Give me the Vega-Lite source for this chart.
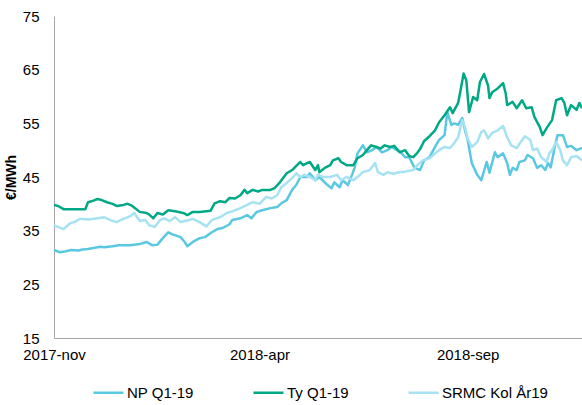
{
  "$schema": "https://vega.github.io/schema/vega-lite/v6.json",
  "autosize": "none",
  "width": 528,
  "height": 322,
  "padding": {"left": 54, "top": 16, "right": 0, "bottom": 67},
  "background": "white",
  "config": {
    "font": "Liberation Sans",
    "view": {"stroke": null}
  },
  "data": {"values": [
    {"d":"2017-11-01","s":"NP Q1-19","v":31.4},{"d":"2017-11-05","s":"NP Q1-19","v":31.0},{"d":"2017-11-09","s":"NP Q1-19","v":31.1},{"d":"2017-11-13","s":"NP Q1-19","v":31.4},{"d":"2017-11-19","s":"NP Q1-19","v":31.3},{"d":"2017-11-22","s":"NP Q1-19","v":31.5},{"d":"2017-11-26","s":"NP Q1-19","v":31.6},{"d":"2017-12-01","s":"NP Q1-19","v":31.8},{"d":"2017-12-05","s":"NP Q1-19","v":32.0},{"d":"2017-12-08","s":"NP Q1-19","v":31.9},{"d":"2017-12-14","s":"NP Q1-19","v":32.1},{"d":"2017-12-19","s":"NP Q1-19","v":32.3},{"d":"2017-12-27","s":"NP Q1-19","v":32.3},
    {"d":"2018-01-03","s":"NP Q1-19","v":32.5},{"d":"2018-01-08","s":"NP Q1-19","v":32.9},{"d":"2018-01-12","s":"NP Q1-19","v":32.3},{"d":"2018-01-16","s":"NP Q1-19","v":32.4},{"d":"2018-01-20","s":"NP Q1-19","v":33.6},{"d":"2018-01-24","s":"NP Q1-19","v":34.7},{"d":"2018-01-27","s":"NP Q1-19","v":34.3},{"d":"2018-02-02","s":"NP Q1-19","v":33.8},{"d":"2018-02-05","s":"NP Q1-19","v":32.9},{"d":"2018-02-07","s":"NP Q1-19","v":32.1},{"d":"2018-02-11","s":"NP Q1-19","v":32.9},{"d":"2018-02-16","s":"NP Q1-19","v":33.6},{"d":"2018-02-20","s":"NP Q1-19","v":33.8},{"d":"2018-02-25","s":"NP Q1-19","v":34.7},
    {"d":"2018-03-01","s":"NP Q1-19","v":35.3},{"d":"2018-03-05","s":"NP Q1-19","v":35.5},{"d":"2018-03-10","s":"NP Q1-19","v":36.2},{"d":"2018-03-12","s":"NP Q1-19","v":37.0},{"d":"2018-03-18","s":"NP Q1-19","v":37.3},{"d":"2018-03-23","s":"NP Q1-19","v":37.9},{"d":"2018-03-26","s":"NP Q1-19","v":37.3},{"d":"2018-03-30","s":"NP Q1-19","v":38.5},{"d":"2018-04-03","s":"NP Q1-19","v":38.8},{"d":"2018-04-09","s":"NP Q1-19","v":39.2},{"d":"2018-04-14","s":"NP Q1-19","v":39.4},{"d":"2018-04-17","s":"NP Q1-19","v":40.1},{"d":"2018-04-21","s":"NP Q1-19","v":40.7},{"d":"2018-04-25","s":"NP Q1-19","v":42.6},{"d":"2018-04-28","s":"NP Q1-19","v":43.5},
    {"d":"2018-05-01","s":"NP Q1-19","v":45.0},{"d":"2018-05-06","s":"NP Q1-19","v":45.0},{"d":"2018-05-08","s":"NP Q1-19","v":45.7},{"d":"2018-05-12","s":"NP Q1-19","v":44.4},{"d":"2018-05-15","s":"NP Q1-19","v":45.0},{"d":"2018-05-21","s":"NP Q1-19","v":43.5},{"d":"2018-05-24","s":"NP Q1-19","v":42.9},{"d":"2018-05-26","s":"NP Q1-19","v":44.0},{"d":"2018-05-30","s":"NP Q1-19","v":43.1},{"d":"2018-06-01","s":"NP Q1-19","v":44.4},{"d":"2018-06-05","s":"NP Q1-19","v":43.5},{"d":"2018-06-08","s":"NP Q1-19","v":45.4},{"d":"2018-06-10","s":"NP Q1-19","v":46.8},{"d":"2018-06-12","s":"NP Q1-19","v":49.4},{"d":"2018-06-16","s":"NP Q1-19","v":50.9},{"d":"2018-06-19","s":"NP Q1-19","v":49.6},{"d":"2018-06-22","s":"NP Q1-19","v":49.9},{"d":"2018-06-26","s":"NP Q1-19","v":50.6},{"d":"2018-06-30","s":"NP Q1-19","v":49.6},
    {"d":"2018-07-04","s":"NP Q1-19","v":50.0},{"d":"2018-07-07","s":"NP Q1-19","v":50.6},{"d":"2018-07-11","s":"NP Q1-19","v":50.0},{"d":"2018-07-13","s":"NP Q1-19","v":49.8},{"d":"2018-07-17","s":"NP Q1-19","v":48.7},{"d":"2018-07-20","s":"NP Q1-19","v":48.7},{"d":"2018-07-24","s":"NP Q1-19","v":46.7},{"d":"2018-07-28","s":"NP Q1-19","v":46.3},{"d":"2018-07-31","s":"NP Q1-19","v":48.1},{"d":"2018-08-04","s":"NP Q1-19","v":48.7},{"d":"2018-08-08","s":"NP Q1-19","v":50.6},{"d":"2018-08-11","s":"NP Q1-19","v":51.9},{"d":"2018-08-15","s":"NP Q1-19","v":52.8},{"d":"2018-08-17","s":"NP Q1-19","v":57.1},{"d":"2018-08-20","s":"NP Q1-19","v":54.7},{"d":"2018-08-22","s":"NP Q1-19","v":55.0},{"d":"2018-08-25","s":"NP Q1-19","v":54.7},{"d":"2018-08-28","s":"NP Q1-19","v":56.0},{"d":"2018-08-30","s":"NP Q1-19","v":53.7},
    {"d":"2018-09-01","s":"NP Q1-19","v":51.9},{"d":"2018-09-04","s":"NP Q1-19","v":47.6},{"d":"2018-09-08","s":"NP Q1-19","v":45.4},{"d":"2018-09-11","s":"NP Q1-19","v":44.4},{"d":"2018-09-15","s":"NP Q1-19","v":47.8},{"d":"2018-09-17","s":"NP Q1-19","v":45.8},{"d":"2018-09-21","s":"NP Q1-19","v":49.6},{"d":"2018-09-23","s":"NP Q1-19","v":48.7},{"d":"2018-09-27","s":"NP Q1-19","v":49.4},{"d":"2018-09-30","s":"NP Q1-19","v":47.6},
    {"d":"2018-10-02","s":"NP Q1-19","v":45.4},{"d":"2018-10-04","s":"NP Q1-19","v":46.7},{"d":"2018-10-07","s":"NP Q1-19","v":46.3},{"d":"2018-10-09","s":"NP Q1-19","v":47.8},{"d":"2018-10-13","s":"NP Q1-19","v":48.1},{"d":"2018-10-15","s":"NP Q1-19","v":49.1},{"d":"2018-10-19","s":"NP Q1-19","v":48.5},{"d":"2018-10-22","s":"NP Q1-19","v":46.7},{"d":"2018-10-25","s":"NP Q1-19","v":47.2},{"d":"2018-10-28","s":"NP Q1-19","v":46.3},{"d":"2018-10-30","s":"NP Q1-19","v":47.6},{"d":"2018-11-01","s":"NP Q1-19","v":46.8},{"d":"2018-11-04","s":"NP Q1-19","v":50.6},{"d":"2018-11-06","s":"NP Q1-19","v":52.8},{"d":"2018-11-10","s":"NP Q1-19","v":52.8},{"d":"2018-11-13","s":"NP Q1-19","v":50.6},{"d":"2018-11-16","s":"NP Q1-19","v":50.8},{"d":"2018-11-20","s":"NP Q1-19","v":50.0},{"d":"2018-11-24","s":"NP Q1-19","v":50.4},

    {"d":"2017-11-01","s":"Ty Q1-19","v":39.8},{"d":"2017-11-04","s":"Ty Q1-19","v":39.6},{"d":"2017-11-08","s":"Ty Q1-19","v":39.0},{"d":"2017-11-16","s":"Ty Q1-19","v":39.0},{"d":"2017-11-24","s":"Ty Q1-19","v":39.0},{"d":"2017-11-26","s":"Ty Q1-19","v":40.3},{"d":"2017-11-30","s":"Ty Q1-19","v":40.6},{"d":"2017-12-03","s":"Ty Q1-19","v":40.9},{"d":"2017-12-06","s":"Ty Q1-19","v":40.7},{"d":"2017-12-10","s":"Ty Q1-19","v":40.3},{"d":"2017-12-14","s":"Ty Q1-19","v":40.0},{"d":"2017-12-17","s":"Ty Q1-19","v":39.6},{"d":"2017-12-22","s":"Ty Q1-19","v":39.8},{"d":"2017-12-25","s":"Ty Q1-19","v":40.0},{"d":"2017-12-28","s":"Ty Q1-19","v":39.7},
    {"d":"2018-01-03","s":"Ty Q1-19","v":38.5},{"d":"2018-01-08","s":"Ty Q1-19","v":38.3},{"d":"2018-01-10","s":"Ty Q1-19","v":38.0},{"d":"2018-01-13","s":"Ty Q1-19","v":37.3},{"d":"2018-01-16","s":"Ty Q1-19","v":38.3},{"d":"2018-01-20","s":"Ty Q1-19","v":38.0},{"d":"2018-01-24","s":"Ty Q1-19","v":38.8},{"d":"2018-01-29","s":"Ty Q1-19","v":38.6},{"d":"2018-02-04","s":"Ty Q1-19","v":38.3},{"d":"2018-02-07","s":"Ty Q1-19","v":37.9},{"d":"2018-02-11","s":"Ty Q1-19","v":38.5},{"d":"2018-02-16","s":"Ty Q1-19","v":38.5},{"d":"2018-02-24","s":"Ty Q1-19","v":38.7},{"d":"2018-02-27","s":"Ty Q1-19","v":40.1},
    {"d":"2018-03-03","s":"Ty Q1-19","v":40.5},{"d":"2018-03-07","s":"Ty Q1-19","v":40.3},{"d":"2018-03-10","s":"Ty Q1-19","v":41.1},{"d":"2018-03-14","s":"Ty Q1-19","v":41.0},{"d":"2018-03-18","s":"Ty Q1-19","v":41.6},{"d":"2018-03-21","s":"Ty Q1-19","v":42.6},{"d":"2018-03-23","s":"Ty Q1-19","v":42.0},{"d":"2018-03-27","s":"Ty Q1-19","v":42.6},{"d":"2018-03-31","s":"Ty Q1-19","v":42.3},{"d":"2018-04-03","s":"Ty Q1-19","v":42.6},{"d":"2018-04-09","s":"Ty Q1-19","v":42.6},{"d":"2018-04-12","s":"Ty Q1-19","v":42.9},{"d":"2018-04-16","s":"Ty Q1-19","v":44.0},{"d":"2018-04-21","s":"Ty Q1-19","v":45.7},{"d":"2018-04-25","s":"Ty Q1-19","v":46.3},
    {"d":"2018-05-01","s":"Ty Q1-19","v":47.8},{"d":"2018-05-03","s":"Ty Q1-19","v":47.2},{"d":"2018-05-06","s":"Ty Q1-19","v":47.6},{"d":"2018-05-08","s":"Ty Q1-19","v":47.8},{"d":"2018-05-12","s":"Ty Q1-19","v":46.3},{"d":"2018-05-14","s":"Ty Q1-19","v":47.2},{"d":"2018-05-15","s":"Ty Q1-19","v":45.9},{"d":"2018-05-19","s":"Ty Q1-19","v":46.7},{"d":"2018-05-23","s":"Ty Q1-19","v":47.2},{"d":"2018-05-25","s":"Ty Q1-19","v":48.1},{"d":"2018-05-29","s":"Ty Q1-19","v":48.5},{"d":"2018-05-31","s":"Ty Q1-19","v":47.8},{"d":"2018-06-04","s":"Ty Q1-19","v":47.2},{"d":"2018-06-09","s":"Ty Q1-19","v":47.2},{"d":"2018-06-12","s":"Ty Q1-19","v":48.5},{"d":"2018-06-16","s":"Ty Q1-19","v":49.1},{"d":"2018-06-19","s":"Ty Q1-19","v":50.0},{"d":"2018-06-22","s":"Ty Q1-19","v":50.9},{"d":"2018-06-26","s":"Ty Q1-19","v":50.6},{"d":"2018-06-29","s":"Ty Q1-19","v":50.3},
    {"d":"2018-07-02","s":"Ty Q1-19","v":50.9},{"d":"2018-07-06","s":"Ty Q1-19","v":50.6},{"d":"2018-07-09","s":"Ty Q1-19","v":50.8},{"d":"2018-07-13","s":"Ty Q1-19","v":49.6},{"d":"2018-07-17","s":"Ty Q1-19","v":50.0},{"d":"2018-07-20","s":"Ty Q1-19","v":48.9},{"d":"2018-07-23","s":"Ty Q1-19","v":48.7},{"d":"2018-07-26","s":"Ty Q1-19","v":49.5},{"d":"2018-07-28","s":"Ty Q1-19","v":50.2},{"d":"2018-07-31","s":"Ty Q1-19","v":51.7},{"d":"2018-08-04","s":"Ty Q1-19","v":52.6},{"d":"2018-08-08","s":"Ty Q1-19","v":53.7},{"d":"2018-08-11","s":"Ty Q1-19","v":55.2},{"d":"2018-08-15","s":"Ty Q1-19","v":56.5},{"d":"2018-08-19","s":"Ty Q1-19","v":58.0},{"d":"2018-08-21","s":"Ty Q1-19","v":56.9},{"d":"2018-08-25","s":"Ty Q1-19","v":58.8},{"d":"2018-08-27","s":"Ty Q1-19","v":61.5},{"d":"2018-08-29","s":"Ty Q1-19","v":64.3},{"d":"2018-08-31","s":"Ty Q1-19","v":63.0},
    {"d":"2018-09-02","s":"Ty Q1-19","v":57.1},{"d":"2018-09-05","s":"Ty Q1-19","v":59.9},{"d":"2018-09-08","s":"Ty Q1-19","v":59.3},{"d":"2018-09-10","s":"Ty Q1-19","v":62.7},{"d":"2018-09-13","s":"Ty Q1-19","v":64.2},{"d":"2018-09-16","s":"Ty Q1-19","v":62.0},{"d":"2018-09-17","s":"Ty Q1-19","v":59.7},{"d":"2018-09-19","s":"Ty Q1-19","v":60.8},{"d":"2018-09-23","s":"Ty Q1-19","v":61.5},{"d":"2018-09-27","s":"Ty Q1-19","v":62.5},{"d":"2018-09-29","s":"Ty Q1-19","v":60.5},{"d":"2018-09-30","s":"Ty Q1-19","v":58.4},
    {"d":"2018-10-04","s":"Ty Q1-19","v":59.0},{"d":"2018-10-07","s":"Ty Q1-19","v":57.8},{"d":"2018-10-11","s":"Ty Q1-19","v":59.3},{"d":"2018-10-14","s":"Ty Q1-19","v":57.8},{"d":"2018-10-18","s":"Ty Q1-19","v":58.0},{"d":"2018-10-20","s":"Ty Q1-19","v":56.2},{"d":"2018-10-24","s":"Ty Q1-19","v":54.3},{"d":"2018-10-26","s":"Ty Q1-19","v":52.8},{"d":"2018-10-29","s":"Ty Q1-19","v":54.1},{"d":"2018-11-02","s":"Ty Q1-19","v":55.6},{"d":"2018-11-05","s":"Ty Q1-19","v":59.3},{"d":"2018-11-09","s":"Ty Q1-19","v":59.7},{"d":"2018-11-11","s":"Ty Q1-19","v":58.8},{"d":"2018-11-13","s":"Ty Q1-19","v":56.5},{"d":"2018-11-16","s":"Ty Q1-19","v":58.4},{"d":"2018-11-20","s":"Ty Q1-19","v":57.5},{"d":"2018-11-22","s":"Ty Q1-19","v":58.8},{"d":"2018-11-24","s":"Ty Q1-19","v":57.8},

    {"d":"2017-11-01","s":"SRMC  Kol År19","v":36.0},{"d":"2017-11-04","s":"SRMC  Kol År19","v":35.7},{"d":"2017-11-08","s":"SRMC  Kol År19","v":35.3},{"d":"2017-11-13","s":"SRMC  Kol År19","v":36.4},{"d":"2017-11-16","s":"SRMC  Kol År19","v":36.6},{"d":"2017-11-20","s":"SRMC  Kol År19","v":37.2},{"d":"2017-11-26","s":"SRMC  Kol År19","v":37.1},{"d":"2017-12-03","s":"SRMC  Kol År19","v":37.3},{"d":"2017-12-08","s":"SRMC  Kol År19","v":37.5},{"d":"2017-12-12","s":"SRMC  Kol År19","v":37.0},{"d":"2017-12-17","s":"SRMC  Kol År19","v":36.6},{"d":"2017-12-22","s":"SRMC  Kol År19","v":37.2},{"d":"2017-12-27","s":"SRMC  Kol År19","v":37.7},{"d":"2017-12-30","s":"SRMC  Kol År19","v":38.3},
    {"d":"2018-01-03","s":"SRMC  Kol År19","v":36.8},{"d":"2018-01-07","s":"SRMC  Kol År19","v":37.0},{"d":"2018-01-10","s":"SRMC  Kol År19","v":36.0},{"d":"2018-01-14","s":"SRMC  Kol År19","v":35.7},{"d":"2018-01-18","s":"SRMC  Kol År19","v":37.0},{"d":"2018-01-21","s":"SRMC  Kol År19","v":37.3},{"d":"2018-01-25","s":"SRMC  Kol År19","v":36.8},{"d":"2018-01-29","s":"SRMC  Kol År19","v":37.5},{"d":"2018-02-02","s":"SRMC  Kol År19","v":36.6},{"d":"2018-02-07","s":"SRMC  Kol År19","v":36.9},{"d":"2018-02-11","s":"SRMC  Kol År19","v":37.2},{"d":"2018-02-16","s":"SRMC  Kol År19","v":36.6},{"d":"2018-02-21","s":"SRMC  Kol År19","v":35.8},{"d":"2018-02-25","s":"SRMC  Kol År19","v":37.0},
    {"d":"2018-03-03","s":"SRMC  Kol År19","v":37.5},{"d":"2018-03-08","s":"SRMC  Kol År19","v":38.3},{"d":"2018-03-12","s":"SRMC  Kol År19","v":38.6},{"d":"2018-03-18","s":"SRMC  Kol År19","v":39.2},{"d":"2018-03-23","s":"SRMC  Kol År19","v":39.8},{"d":"2018-03-27","s":"SRMC  Kol År19","v":40.3},{"d":"2018-04-01","s":"SRMC  Kol År19","v":40.0},{"d":"2018-04-06","s":"SRMC  Kol År19","v":41.3},{"d":"2018-04-10","s":"SRMC  Kol År19","v":41.0},{"d":"2018-04-14","s":"SRMC  Kol År19","v":41.6},{"d":"2018-04-17","s":"SRMC  Kol År19","v":43.1},{"d":"2018-04-21","s":"SRMC  Kol År19","v":43.9},{"d":"2018-04-25","s":"SRMC  Kol År19","v":44.8},{"d":"2018-04-28","s":"SRMC  Kol År19","v":45.7},
    {"d":"2018-05-01","s":"SRMC  Kol År19","v":45.0},{"d":"2018-05-04","s":"SRMC  Kol År19","v":45.4},{"d":"2018-05-08","s":"SRMC  Kol År19","v":45.0},{"d":"2018-05-12","s":"SRMC  Kol År19","v":44.4},{"d":"2018-05-14","s":"SRMC  Kol År19","v":45.4},{"d":"2018-05-18","s":"SRMC  Kol År19","v":45.0},{"d":"2018-05-23","s":"SRMC  Kol År19","v":45.0},{"d":"2018-05-28","s":"SRMC  Kol År19","v":45.4},{"d":"2018-05-31","s":"SRMC  Kol År19","v":44.4},{"d":"2018-06-04","s":"SRMC  Kol År19","v":45.0},{"d":"2018-06-09","s":"SRMC  Kol År19","v":44.4},{"d":"2018-06-12","s":"SRMC  Kol År19","v":45.0},{"d":"2018-06-16","s":"SRMC  Kol År19","v":45.9},{"d":"2018-06-21","s":"SRMC  Kol År19","v":46.3},{"d":"2018-06-25","s":"SRMC  Kol År19","v":47.6},{"d":"2018-06-27","s":"SRMC  Kol År19","v":45.9},
    {"d":"2018-07-01","s":"SRMC  Kol År19","v":45.4},{"d":"2018-07-04","s":"SRMC  Kol År19","v":45.9},{"d":"2018-07-08","s":"SRMC  Kol År19","v":45.6},{"d":"2018-07-13","s":"SRMC  Kol År19","v":45.9},{"d":"2018-07-17","s":"SRMC  Kol År19","v":46.0},{"d":"2018-07-23","s":"SRMC  Kol År19","v":46.3},{"d":"2018-07-26","s":"SRMC  Kol År19","v":47.2},{"d":"2018-07-30","s":"SRMC  Kol År19","v":48.1},{"d":"2018-08-04","s":"SRMC  Kol År19","v":48.5},{"d":"2018-08-08","s":"SRMC  Kol År19","v":49.4},{"d":"2018-08-11","s":"SRMC  Kol År19","v":50.0},{"d":"2018-08-15","s":"SRMC  Kol År19","v":50.6},{"d":"2018-08-19","s":"SRMC  Kol År19","v":50.4},{"d":"2018-08-22","s":"SRMC  Kol År19","v":51.3},{"d":"2018-08-25","s":"SRMC  Kol År19","v":52.4},{"d":"2018-08-28","s":"SRMC  Kol År19","v":55.6},{"d":"2018-08-30","s":"SRMC  Kol År19","v":54.3},
    {"d":"2018-09-01","s":"SRMC  Kol År19","v":52.2},{"d":"2018-09-04","s":"SRMC  Kol År19","v":50.6},{"d":"2018-09-08","s":"SRMC  Kol År19","v":51.5},{"d":"2018-09-11","s":"SRMC  Kol År19","v":53.4},{"d":"2018-09-13","s":"SRMC  Kol År19","v":53.7},{"d":"2018-09-16","s":"SRMC  Kol År19","v":52.2},{"d":"2018-09-19","s":"SRMC  Kol År19","v":53.2},{"d":"2018-09-23","s":"SRMC  Kol År19","v":53.7},{"d":"2018-09-27","s":"SRMC  Kol År19","v":54.5},{"d":"2018-09-30","s":"SRMC  Kol År19","v":52.4},
    {"d":"2018-10-03","s":"SRMC  Kol År19","v":50.9},{"d":"2018-10-07","s":"SRMC  Kol År19","v":50.4},{"d":"2018-10-11","s":"SRMC  Kol År19","v":51.9},{"d":"2018-10-13","s":"SRMC  Kol År19","v":52.6},{"d":"2018-10-17","s":"SRMC  Kol År19","v":51.9},{"d":"2018-10-19","s":"SRMC  Kol År19","v":50.0},{"d":"2018-10-22","s":"SRMC  Kol År19","v":50.3},{"d":"2018-10-25","s":"SRMC  Kol År19","v":48.7},{"d":"2018-10-29","s":"SRMC  Kol År19","v":47.8},{"d":"2018-10-31","s":"SRMC  Kol År19","v":49.4},{"d":"2018-11-02","s":"SRMC  Kol År19","v":50.0},{"d":"2018-11-05","s":"SRMC  Kol År19","v":51.5},{"d":"2018-11-08","s":"SRMC  Kol År19","v":50.0},{"d":"2018-11-10","s":"SRMC  Kol År19","v":48.1},{"d":"2018-11-13","s":"SRMC  Kol År19","v":47.2},{"d":"2018-11-16","s":"SRMC  Kol År19","v":48.7},{"d":"2018-11-20","s":"SRMC  Kol År19","v":48.9},{"d":"2018-11-24","s":"SRMC  Kol År19","v":48.1}
  ]},
  "mark": {"type": "line", "strokeWidth": 2.5, "interpolate": "linear", "strokeJoin": "round"},
  "encoding": {
    "x": {
      "field": "d", "type": "temporal",
      "scale": {"type": "utc", "domain": [{"year": 2017, "month": 11, "date": 1, "utc": true}, {"year": 2018, "month": 11, "date": 24, "utc": true}], "nice": false},
      "axis": {
        "title": null,
        "values": [{"year": 2017, "month": 11, "date": 1, "utc": true}, {"year": 2018, "month": 4, "date": 1, "utc": true}, {"year": 2018, "month": 9, "date": 1, "utc": true}],
        "labelExpr": "utcFormat(datum.value, '%Y-') + lower(utcFormat(datum.value, '%b'))",
        "grid": false, "ticks": false,
        "domainColor": "#a6a6a6", "domainWidth": 1,
        "labelFont": "Liberation Sans", "labelFontSize": 15, "labelColor": "#000000",
        "labelPadding": 9, "labelFlush": false, "labelOverlap": false
      }
    },
    "y": {
      "field": "v", "type": "quantitative",
      "scale": {"domain": [15, 75], "nice": false, "zero": false},
      "axis": {
        "title": "€/MWh",
        "values": [15, 25, 35, 45, 55, 65, 75],
        "grid": false, "ticks": false,
        "domainColor": "#a6a6a6", "domainWidth": 1,
        "labelFont": "Liberation Sans", "labelFontSize": 15, "labelColor": "#000000",
        "labelPadding": 15,
        "titleFont": "Liberation Sans", "titleFontSize": 14, "titleFontWeight": "bold", "titleColor": "#000000",
        "titlePadding": 4
      }
    },
    "color": {
      "field": "s", "type": "nominal",
      "scale": {"domain": ["NP Q1-19", "Ty Q1-19", "SRMC  Kol År19"], "range": ["#5BC8E2", "#00A885", "#A6E2F2"]},
      "legend": {
        "title": null,
        "orient": "none",
        "direction": "horizontal",
        "legendX": 38,
        "legendY": 360,
        "symbolType": "stroke",
        "symbolSize": 900,
        "symbolStrokeWidth": 2.5,
        "labelFont": "Liberation Sans",
        "labelFontSize": 15,
        "labelColor": "#000000",
        "labelOffset": 2,
        "columnPadding": 54
      }
    }
  }
}
